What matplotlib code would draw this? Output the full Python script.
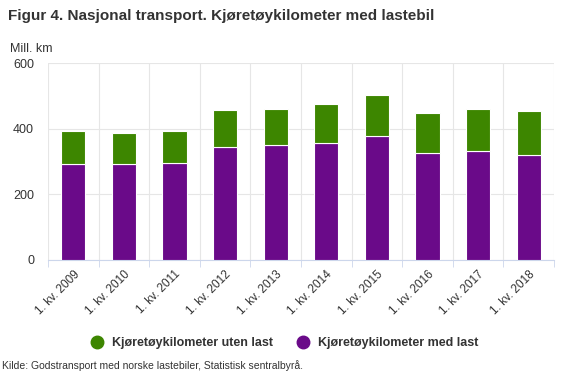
import matplotlib
matplotlib.use("Agg")
import matplotlib.pyplot as plt
from matplotlib.lines import Line2D

categories = ["1. kv. 2009", "1. kv. 2010", "1. kv. 2011", "1. kv. 2012", "1. kv. 2013",
              "1. kv. 2014", "1. kv. 2015", "1. kv. 2016", "1. kv. 2017", "1. kv. 2018"]
med_last = [291, 291, 294, 343, 351, 357, 378, 327, 332, 320]
uten_last = [102, 97, 99, 113, 108, 118, 124, 120, 129, 133]
yticks = [0, 200, 400, 600]

green = "#3d8600"
purple = "#6a0a89"
plt.rcParams['font.family'] = ['Liberation Sans', 'DejaVu Sans']

fig = plt.figure(figsize=(5.63, 3.75), dpi=100)
ax = fig.add_axes([48/563, 1 - 260/375, (554-48)/563, (260-63)/375])

x = list(range(len(categories)))
ax.bar(x, med_last, width=0.48, color=purple, edgecolor="white", linewidth=0.8, zorder=3)
ax.bar(x, uten_last, bottom=med_last, width=0.48, color=green, edgecolor="white", linewidth=0.8, zorder=3)

ax.set_xlim(-0.5, len(categories) - 0.5)
ax.set_ylim(0, 600)
ax.set_yticks(yticks)
ax.set_yticklabels([str(v) for v in yticks], fontsize=9, color="#333333")
ax.set_xticks(x)
ax.set_xticklabels(categories, rotation=45, ha="right", rotation_mode="anchor", fontsize=8.5, color="#333333")
ax.set_xticks([i - 0.5 for i in range(len(categories) + 1)], minor=True)
ax.tick_params(axis="x", which="major", length=0, pad=6)
ax.tick_params(axis="x", which="minor", length=5, color="#ccd6eb")
ax.tick_params(axis="y", length=0, pad=10)
ax.grid(axis="y", color="#e6e6e6", linewidth=0.8, zorder=0)
ax.grid(axis="x", which="minor", color="#e6e6e6", linewidth=0.8, zorder=0)
for s in ["top", "right", "left"]:
    ax.spines[s].set_visible(False)
ax.spines["bottom"].set_color("#ccd6eb")

fig.text(8/563, 1 - 16/375, "Figur 4. Nasjonal transport. Kjøretøykilometer med lastebil",
         fontsize=11, fontweight="bold", color="#333333", va="center")
fig.text(10/563, 1 - 49/375, "Mill. km", fontsize=9, color="#333333", va="center")
fig.text(2/563, 1 - 366/375, "Kilde: Godstransport med norske lastebiler, Statistisk sentralbyrå.",
         fontsize=7.5, color="#333333", va="center")

handles = [Line2D([], [], marker="o", linestyle="", markersize=9, color=green),
           Line2D([], [], marker="o", linestyle="", markersize=9, color=purple)]
fig.legend(handles, ["Kjøretøykilometer uten last", "Kjøretøykilometer med last"],
           loc="center", bbox_to_anchor=(0.5, 1 - 343/375), ncol=2, frameon=False,
           prop={"size": 9, "weight": "bold"}, handletextpad=0.2, columnspacing=1.4,
           labelcolor="#333333")

fig.savefig("out.png", dpi=100)
